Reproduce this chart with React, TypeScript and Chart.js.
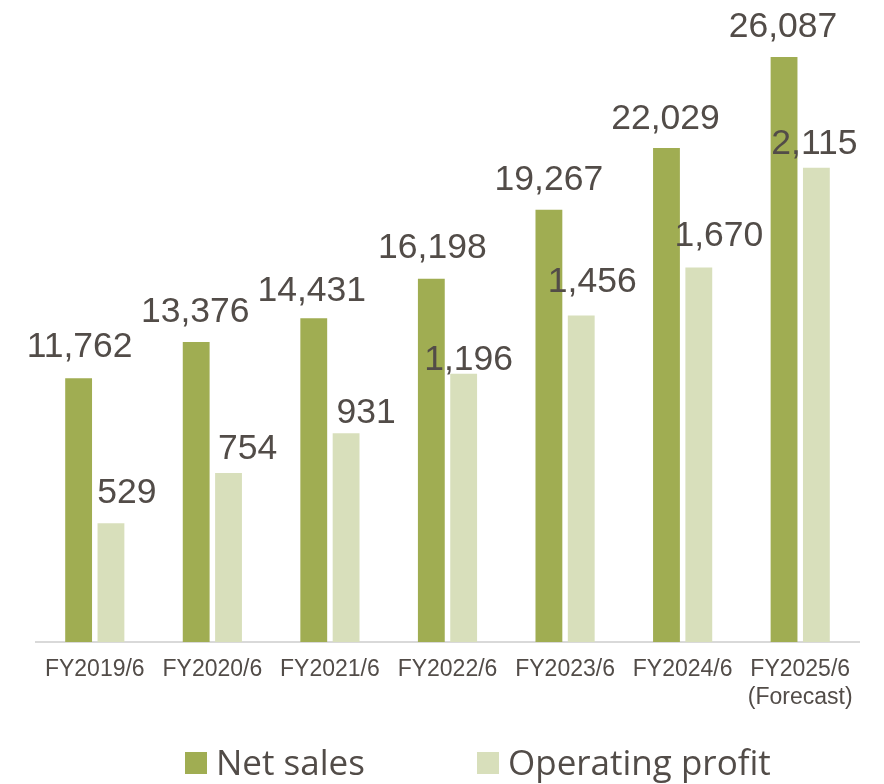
import React, { useEffect, useRef } from "react";
import { Chart, registerables } from "chart.js";

Chart.register(...registerables);

const categories: (string | string[])[] = [
  "FY2019/6",
  "FY2020/6",
  "FY2021/6",
  "FY2022/6",
  "FY2023/6",
  "FY2024/6",
  ["FY2025/6", "(Forecast)"],
];
const netSales = [11762, 13376, 14431, 16198, 19267, 22029, 26087];
const operatingProfit = [529, 754, 931, 1196, 1456, 1670, 2115];

const TEXT = "#524c48";
const NET_COLOR = "#a0ad52";
const OP_COLOR = "#d8dfbb";

// label nudges (dx, gap above bar top) per dataset
const labelNudges = [
  { dx: [1, -1, -2, 1, 0, -1, -1], gap: [21, 20, 17, 21, 20, 19, 20] },
  { dx: [16, 19, 20, 5, 11, 20, -2], gap: [20, 14, 10, 4, 23, 21, 14] },
];

const valueLabels = {
  id: "valueLabels",
  afterDatasetsDraw(chart: any) {
    const ctx = chart.ctx;
    ctx.save();
    ctx.font = '35.5px "Liberation Sans", Arial, sans-serif';
    ctx.fillStyle = TEXT;
    ctx.textAlign = "center";
    ctx.textBaseline = "alphabetic";
    chart.data.datasets.forEach((ds: any, di: number) => {
      const meta = chart.getDatasetMeta(di);
      meta.data.forEach((el: any, i: number) => {
        const v = ds.data[i] as number;
        const n = labelNudges[di];
        ctx.fillText(v.toLocaleString("en-US"), el.x + n.dx[i], el.y - n.gap[i]);
      });
    });
    ctx.restore();
  },
};

const customLegend = {
  id: "customLegend",
  afterDraw(chart: any) {
    const ctx = chart.ctx;
    const starts = [185, 477];
    const box = 22;
    const baseY = 775;
    ctx.save();
    ctx.font = '35px "Open Sans", "Noto Sans", sans-serif';
    ctx.textAlign = "left";
    ctx.textBaseline = "alphabetic";
    chart.data.datasets.forEach((ds: any, di: number) => {
      const x = starts[di];
      ctx.fillStyle = ds.backgroundColor;
      ctx.fillRect(x, baseY - 23, box, box);
      ctx.fillStyle = TEXT;
      ctx.fillText(ds.label, x + box + 9, baseY);
    });
    ctx.restore();
  },
};

export default function App() {
  const ref = useRef<HTMLCanvasElement>(null);
  useEffect(() => {
    if (!ref.current) return;
    const chart = new Chart(ref.current, {
      type: "bar",
      data: {
        labels: categories,
        datasets: [
          {
            label: "Net sales",
            data: netSales,
            backgroundColor: NET_COLOR,
            yAxisID: "y",
            categoryPercentage: 0.55,
            barPercentage: 0.83,
          },
          {
            label: "Operating profit",
            data: operatingProfit,
            backgroundColor: OP_COLOR,
            yAxisID: "y1",
            categoryPercentage: 0.55,
            barPercentage: 0.83,
          },
        ],
      },
      options: {
        responsive: false,
        animation: false,
        devicePixelRatio: 1,
        layout: { padding: { left: 36, right: 25, top: 14, bottom: 72 } },
        plugins: {
          legend: { display: false },
          tooltip: { enabled: false },
        },
        scales: {
          x: {
            grid: { display: false, drawTicks: false },
            border: { display: true, color: "#d9d9d9", width: 2 },
            ticks: {
              color: TEXT,
              font: { family: '"Liberation Sans", Arial, sans-serif', size: 23 },
              padding: 14,
              maxRotation: 0,
              autoSkip: false,
            },
            afterFit(scale: any) {
              scale.height = 70;
            },
          },
          y: { display: false, min: 0, max: 28000 },
          y1: { display: false, min: 0, max: 2800, position: "right" },
        },
      },
      plugins: [valueLabels, customLegend],
    });
    return () => chart.destroy();
  }, []);
  return (
    <div style={{ position: "absolute", left: 0, top: 0, width: 884, height: 784, background: "#fff" }}>
      <canvas ref={ref} width={884} height={784} />
    </div>
  );
}
